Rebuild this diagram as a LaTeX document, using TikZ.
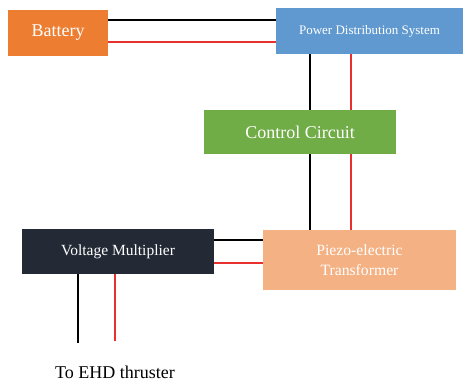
\documentclass[tikz,border=0pt]{standalone}
\usepackage{fontspec}
\setmainfont{Liberation Serif}
\definecolor{batc}{HTML}{ED7D31}
\definecolor{pdsc}{HTML}{5F99CF}
\definecolor{ccc}{HTML}{70AD47}
\definecolor{vmc}{HTML}{232A36}
\definecolor{ptc}{HTML}{F4B183}
\definecolor{wred}{HTML}{E8302F}
\begin{document}
\begin{tikzpicture}[x=1pt,y=-1pt,
  blockbox/.style={rectangle,inner sep=0pt,outer sep=0pt,text=white,align=center},
  blk/.style={line width=2pt,black},
  rd/.style={line width=2pt,wred}]
\useasboundingbox (0,0) rectangle (463,386);
\node[blockbox,fill=batc,minimum width=100pt,minimum height=46pt,font=\fontsize{18}{20}\selectfont] (bat) at (58,33) {Battery};
\node[blockbox,fill=pdsc,minimum width=187pt,minimum height=46pt,font=\fontsize{13}{15}\selectfont] (pds) at (369.5,31) {Power Distribution System};
\node[blockbox,fill=ccc,minimum width=192pt,minimum height=44pt,font=\fontsize{18}{20}\selectfont] (cc) at (300,132) {Control Circuit};
\node[blockbox,fill=vmc,minimum width=192pt,minimum height=45pt,font=\fontsize{15.5}{18}\selectfont] (vm) at (118,251.5) {Voltage Multiplier};
\node[blockbox,fill=ptc,minimum width=193pt,minimum height=60pt,font=\fontsize{15.7}{20}\selectfont] (pt) at (359.5,260) {Piezo-electric\\Transformer};
\node[inner sep=0pt,font=\fontsize{18}{20}\selectfont] (ehd) at (115,372) {To EHD thruster};
\coordinate (colb) at (310,0);
\coordinate (colr) at (350.5,0);
\coordinate (vmb) at (78,343);
\coordinate (vmr) at (115,341);
% battery to PDS
\draw[blk] ([yshift=13pt]bat.east) -- ([yshift=13pt]bat.east -| pds.west);
\draw[rd] ([yshift=-9pt]bat.east) -- ([yshift=-9pt]bat.east -| pds.west);
% PDS to control circuit
\draw[blk] (pds.south -| colb) -- (cc.north -| colb);
\draw[rd] (pds.south -| colr) -- (cc.north -| colr);
% control circuit to transformer
\draw[blk] (cc.south -| colb) -- (pt.north -| colb);
\draw[rd] (cc.south -| colr) -- (pt.north -| colr);
% VM to transformer
\draw[blk] ([yshift=11.5pt]vm.east) -- ([yshift=11.5pt]vm.east -| pt.west);
\draw[rd] ([yshift=-11.5pt]vm.east) -- ([yshift=-11.5pt]vm.east -| pt.west);
% VM down
\draw[blk] (vm.south -| vmb) -- (vmb);
\draw[rd] (vm.south -| vmr) -- (vmr);
\end{tikzpicture}
\end{document}
